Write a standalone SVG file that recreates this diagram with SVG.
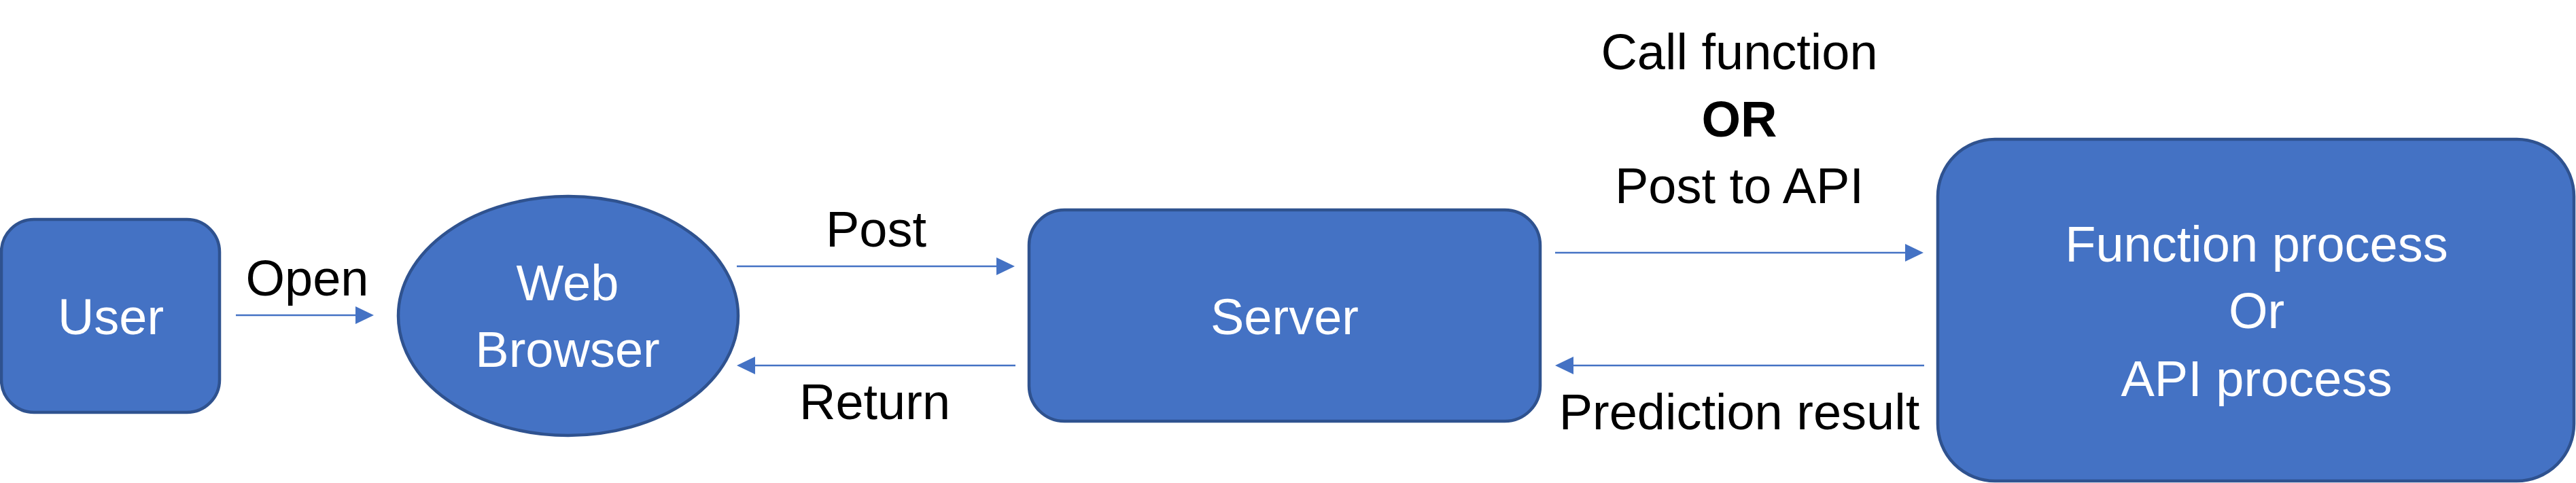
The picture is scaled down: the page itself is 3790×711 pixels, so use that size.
<svg xmlns="http://www.w3.org/2000/svg" width="3790" height="711" viewBox="0 0 3790 711">
<style>
.node{fill:#4472C4;stroke:#2F528F;stroke-width:4.5}
.nt{fill:#FFFFFF;font-family:"Liberation Sans",Arial,sans-serif;font-size:74px;text-anchor:middle}
.lbl{fill:#000000;font-family:"Liberation Sans",Arial,sans-serif;font-size:74px;text-anchor:middle}
.edge{stroke:#4472C4;stroke-width:2.5;fill:none;marker-end:url(#ah)}
</style>
<defs>
<marker id="ah" markerUnits="userSpaceOnUse" markerWidth="28" markerHeight="28" refX="17" refY="13" orient="auto">
<path d="M0,0 L27,13 L0,26 z" fill="#4472C4"/>
</marker>
</defs>
<rect width="3790" height="711" fill="#FFFFFF"/>
<g id="user">
<rect class="node" x="2" y="323" width="321" height="284" rx="48" ry="48"/>
<text class="nt" x="163" y="492">User</text>
</g>
<g id="browser">
<ellipse class="node" cx="836" cy="465" rx="250" ry="176"/>
<text class="nt" x="835" y="442">Web</text>
<text class="nt" x="835" y="540">Browser</text>
</g>
<g id="server">
<rect class="node" x="1514" y="309" width="752" height="311" rx="52" ry="52"/>
<text class="nt" x="1890" y="492">Server</text>
</g>
<g id="process">
<rect class="node" x="2851" y="205" width="936" height="503" rx="84" ry="84"/>
<text class="nt" x="3320" y="385">Function process</text>
<text class="nt" x="3320" y="483">Or</text>
<text class="nt" x="3320" y="583">API process</text>
</g>
<g id="connectors">
<line class="edge" x1="347" y1="464" x2="540" y2="464"/>
<line class="edge" x1="1084" y1="392" x2="1483" y2="392"/>
<line class="edge" x1="1494" y1="538" x2="1094" y2="538"/>
<line class="edge" x1="2288" y1="372" x2="2820" y2="372"/>
<line class="edge" x1="2831" y1="538" x2="2298" y2="538"/>
</g>
<g id="labels">
<text class="lbl" x="452" y="435">Open</text>
<text class="lbl" x="1289" y="363">Post</text>
<text class="lbl" x="1287" y="617">Return</text>
<text class="lbl" x="2559" y="102">Call function</text>
<text class="lbl" x="2559" y="201" font-weight="bold">OR</text>
<text class="lbl" x="2559" y="299">Post to API</text>
<text class="lbl" x="2559" y="632">Prediction result</text>
</g>
</svg>
